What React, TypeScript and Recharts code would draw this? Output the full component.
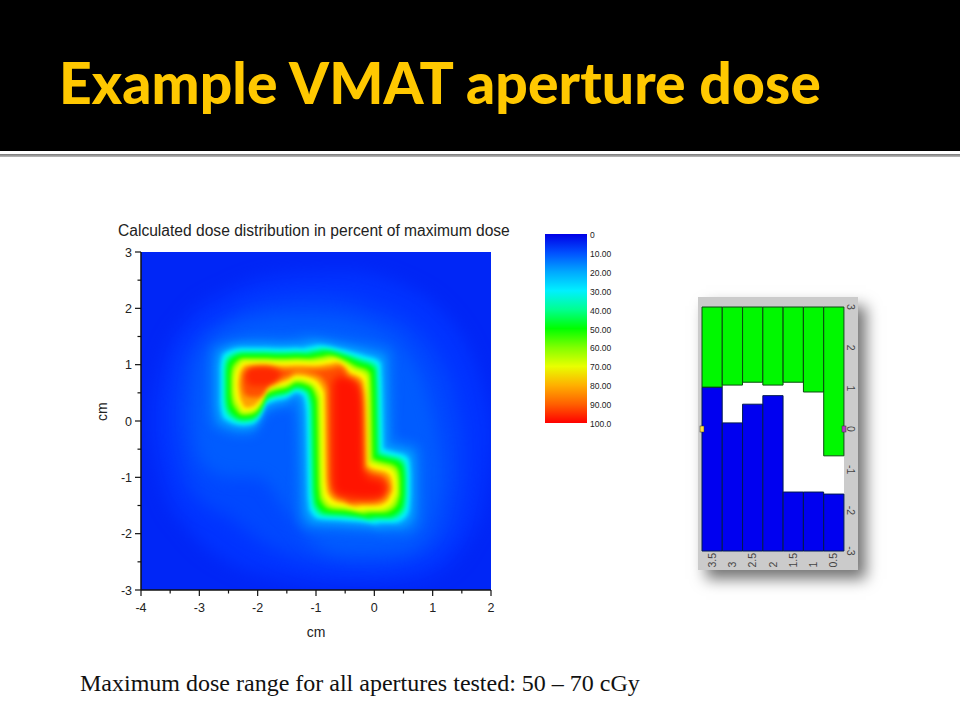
import {
  Area,
  Bar,
  BarChart,
  CartesianGrid,
  ComposedChart,
  XAxis,
  YAxis,
} from "recharts";

// dose contours: x in cm, then the lower and upper edge in cm
const x7 = [-3.8, -3.6, -3.2, -2.5, -1.5, -0.5, 0.5, 1.2, 1.6, 1.85, 2];
const hi7 = [0.3, 1.1, 1.8, 2.3, 2.6, 2.65, 2.4, 1.9, 1.3, 0.6, 0];
const lo7 = [-0.3, -1.2, -1.9, -2.5, -2.8, -2.9, -2.85, -2.6, -2.1, -1.5, -0.5];

const x10 = [-3.4, -3.3, -3, -2.5, -2, -1, 0, 0.6, 1.1, 1.35, 1.5];
const hi10 = [0.3, 1, 1.5, 1.85, 2.1, 2.2, 2.0, 1.7, 1.1, 0.5, -0.3];
const lo10 = [-0.2, -0.8, -1.4, -1.7, -2.1, -2.5, -2.6, -2.5, -2.2, -1.8, -1.0];

const x12 = [-3.1, -3.05, -2.9, -2.5, -2, -1.5, -1, -0.5, 0, 0.5, 0.9, 1.05, 1.15];
const hi12 = [0.3, 0.9, 1.3, 1.65, 1.8, 1.85, 1.85, 1.8, 1.65, 1.3, 0.5, -0.1, -0.7];
const lo12 = [-0.1, -0.5, -0.8, -1.0, -1.0, -1.6, -2.2, -2.35, -2.35, -2.3, -2.0, -1.6, -1.1];

const x15 = [-2.83, -2.81, -2.75, -2.25, -2.07, -1.96, -1.85, -1.7, -1.5, -1.42, -1.38, -1.36, -1.32, -1.3, -1.15, -0.5, 0.1, 0.2, 0.3, 0.32, 0.35, 0.53, 0.72, 0.79, 0.81];
const hi15 = [1.05, 1.2, 1.33, 1.47, 1.49, 1.49, 1.49, 1.48, 1.48, 1.49, 1.48, 1.5, 1.51, 1.51, 1.54, 1.45, 1.33, 1.3, 1.22, 0.9, -0.3, -0.36, -0.42, -0.52, -0.85];
const lo15 = [0.2, 0.05, -0.12, -0.27, -0.24, -0.12, 0.1, 0.17, 0.22, 0.25, 0.15, 0, -1.6, -1.75, -1.92, -1.96, -2, -2.02, -2, -2, -2, -2, -1.9, -1.75, -1.4];

const x20 = [-2.72, -2.7, -2.64, -2.25, -2.07, -1.96, -1.85, -1.7, -1.5, -1.33, -1.29, -1.25, -1.21, -1.19, -1.04, -0.5, -0.01, 0.09, 0.19, 0.21, 0.24, 0.42, 0.61, 0.68, 0.7];
const hi20 = [0.98, 1.12, 1.25, 1.38, 1.38, 1.38, 1.38, 1.37, 1.37, 1.38, 1.37, 1.39, 1.4, 1.4, 1.43, 1.34, 1.22, 1.19, 1.11, 0.79, -0.41, -0.47, -0.53, -0.63, -0.95];
const lo20 = [0.28, 0.13, -0.03, -0.16, -0.13, -0.01, 0.21, 0.28, 0.33, 0.42, 0.36, 0.11, -1.5, -1.66, -1.82, -1.85, -1.89, -1.91, -1.89, -1.89, -1.89, -1.89, -1.8, -1.66, -1.35];

const x30 = [-2.64, -2.62, -2.56, -2.25, -2.07, -1.96, -1.85, -1.7, -1.5, -1.33, -1.22, -1.17, -1.13, -1.11, -0.96, -0.5, -0.09, 0.01, 0.11, 0.13, 0.16, 0.34, 0.53, 0.6, 0.62];
const hi30 = [0.95, 1.1, 1.21, 1.3, 1.3, 1.3, 1.3, 1.29, 1.29, 1.3, 1.29, 1.31, 1.32, 1.32, 1.35, 1.26, 1.14, 1.11, 1.03, 0.71, -0.49, -0.55, -0.61, -0.71, -0.95];
const lo30 = [0.32, 0.16, 0.03, -0.08, -0.05, 0.07, 0.29, 0.36, 0.41, 0.5, 0.44, 0.19, -1.42, -1.58, -1.74, -1.77, -1.81, -1.83, -1.81, -1.81, -1.81, -1.81, -1.72, -1.58, -1.3];

const x40 = [-2.58, -2.56, -2.5, -2.25, -2.07, -1.96, -1.85, -1.7, -1.5, -1.33, -1.18, -1.11, -1.07, -1.05, -0.9, -0.5, -0.15, -0.05, 0.05, 0.07, 0.1, 0.28, 0.47, 0.54, 0.56];
const hi40 = [0.92, 1.06, 1.16, 1.24, 1.24, 1.24, 1.24, 1.23, 1.23, 1.24, 1.23, 1.25, 1.26, 1.26, 1.29, 1.2, 1.08, 1.05, 0.97, 0.65, -0.55, -0.61, -0.67, -0.77, -0.97];
const lo40 = [0.38, 0.22, 0.09, -0.02, 0.01, 0.13, 0.35, 0.42, 0.47, 0.56, 0.5, 0.25, -1.36, -1.52, -1.68, -1.71, -1.75, -1.77, -1.75, -1.75, -1.75, -1.75, -1.66, -1.52, -1.3];

const x50 = [-2.53, -2.51, -2.45, -2.25, -2.07, -1.96, -1.85, -1.7, -1.5, -1.33, -1.15, -1.06, -1.02, -1.0, -0.85, -0.5, -0.2, -0.1, 0, 0.02, 0.05, 0.23, 0.42, 0.49, 0.51];
const hi50 = [0.87, 1.01, 1.11, 1.19, 1.19, 1.19, 1.19, 1.18, 1.18, 1.19, 1.18, 1.2, 1.21, 1.21, 1.24, 1.15, 1.03, 1.0, 0.92, 0.6, -0.6, -0.66, -0.72, -0.82, -1.0];
const lo50 = [0.43, 0.27, 0.14, 0.03, 0.06, 0.18, 0.4, 0.47, 0.52, 0.61, 0.55, 0.3, -1.31, -1.47, -1.63, -1.66, -1.7, -1.72, -1.7, -1.7, -1.7, -1.7, -1.61, -1.47, -1.3];

const x60 = [-2.46, -2.44, -2.38, -2.25, -2.07, -1.96, -1.85, -1.7, -1.5, -1.33, -1.12, -0.99, -0.95, -0.93, -0.78, -0.5, -0.27, -0.17, -0.07, -0.05, -0.02, 0.16, 0.35, 0.42, 0.44];
const hi60 = [0.8, 0.94, 1.04, 1.12, 1.12, 1.12, 1.12, 1.11, 1.11, 1.12, 1.11, 1.13, 1.14, 1.14, 1.17, 1.08, 0.96, 0.93, 0.85, 0.53, -0.67, -0.73, -0.79, -0.89, -1.05];
const lo60 = [0.5, 0.34, 0.21, 0.1, 0.13, 0.25, 0.47, 0.54, 0.59, 0.68, 0.62, 0.37, -1.24, -1.4, -1.56, -1.59, -1.63, -1.65, -1.63, -1.63, -1.63, -1.63, -1.54, -1.4, -1.3];

const x70 = [-2.4, -2.38, -2.32, -2.25, -2.07, -1.96, -1.85, -1.7, -1.5, -1.33, -1.09, -0.93, -0.89, -0.87, -0.72, -0.5, -0.33, -0.23, -0.13, -0.11, -0.08, 0.1, 0.29, 0.36, 0.38];
const hi70 = [0.74, 0.88, 0.98, 1.06, 1.06, 1.06, 1.06, 1.05, 1.05, 1.06, 1.05, 1.07, 1.08, 1.08, 1.11, 1.02, 0.9, 0.87, 0.79, 0.47, -0.73, -0.79, -0.85, -0.95, -1.1];
const lo70 = [0.56, 0.4, 0.27, 0.16, 0.19, 0.31, 0.53, 0.6, 0.65, 0.74, 0.68, 0.43, -1.18, -1.34, -1.5, -1.53, -1.57, -1.59, -1.57, -1.57, -1.57, -1.57, -1.48, -1.34, -1.3];

const x80 = [-2.33, -2.31, -2.27, -2.2, -2.07, -1.96, -1.85, -1.7, -1.5, -1.33, -1.05, -0.86, -0.82, -0.8, -0.65, -0.5, -0.4, -0.3, -0.2, -0.18, -0.15, 0.03, 0.22, 0.29, 0.31];
const hi80 = [0.7, 0.84, 0.93, 0.99, 0.99, 0.99, 0.99, 0.98, 0.98, 0.99, 0.98, 1.0, 1.01, 1.01, 1.04, 0.95, 0.83, 0.8, 0.72, 0.4, -0.8, -0.86, -0.92, -1.02, -1.15];
const lo80 = [0.6, 0.45, 0.33, 0.23, 0.26, 0.38, 0.6, 0.67, 0.72, 0.81, 0.75, 0.5, -1.12, -1.28, -1.43, -1.46, -1.5, -1.52, -1.5, -1.5, -1.5, -1.5, -1.42, -1.28, -1.25];

const x90 = [-2.26, -2.24, -2.2, -2.1, -2.0, -1.9, -1.8, -1.7, -1.5, -1.33, -1.0, -0.79, -0.75, -0.73, -0.6, -0.5, -0.47, -0.37, -0.27, -0.25, -0.22, -0.04, 0.15, 0.22, 0.24];
const hi90 = [0.68, 0.81, 0.88, 0.92, 0.92, 0.92, 0.92, 0.91, 0.91, 0.92, 0.91, 0.93, 0.94, 0.94, 0.97, 0.88, 0.76, 0.73, 0.65, 0.33, -0.87, -0.93, -0.99, -1.09, -1.2];
const lo90 = [0.62, 0.5, 0.45, 0.42, 0.42, 0.47, 0.67, 0.74, 0.79, 0.88, 0.82, 0.57, -1.05, -1.22, -1.36, -1.39, -1.43, -1.45, -1.43, -1.43, -1.43, -1.43, -1.36, -1.24, -1.22];

const xArm = [-2.2, -2.1, -1.9, -1.7, -1.6];
const hiArm = [0.88, 0.95, 0.97, 0.93, 0.85];
const loArm = [0.72, 0.62, 0.62, 0.68, 0.8];

const xCore = [-0.72, -0.68, -0.6, -0.4, -0.25, -0.2, -0.17, -0.1, 0.1, 0.18, 0.2];
const hiCore = [0.65, 0.75, 0.8, 0.75, 0.6, 0.3, -0.85, -1.0, -1.05, -1.1, -1.2];
const loCore = [-1.1, -1.25, -1.32, -1.36, -1.38, -1.38, -1.38, -1.38, -1.36, -1.3, -1.25];

const toRows = (xs: number[], lo: number[], hi: number[]) =>
  xs.map((x, i) => ({ x, range: [lo[i], hi[i]] }));

const bands = [
  { name: "d7", color: "#0034ff", blur: 9, rows: toRows(x7, lo7, hi7) },
  { name: "d10", color: "#0048ff", blur: 9, rows: toRows(x10, lo10, hi10) },
  { name: "d12", color: "#005cff", blur: 8, rows: toRows(x12, lo12, hi12) },
  { name: "d15", color: "#0078ff", blur: 5, rows: toRows(x15, lo15, hi15) },
  { name: "d20", color: "#009eff", blur: 3, rows: toRows(x20, lo20, hi20) },
  { name: "d30", color: "#00f0ff", blur: 2, rows: toRows(x30, lo30, hi30) },
  { name: "d40", color: "#00ff90", blur: 2, rows: toRows(x40, lo40, hi40) },
  { name: "d50", color: "#00ff00", blur: 2, rows: toRows(x50, lo50, hi50) },
  { name: "d60", color: "#a0ff00", blur: 2, rows: toRows(x60, lo60, hi60) },
  { name: "d70", color: "#ffff00", blur: 2, rows: toRows(x70, lo70, hi70) },
  { name: "d80", color: "#ffa000", blur: 2, rows: toRows(x80, lo80, hi80) },
  { name: "d90", color: "#ff5000", blur: 2.5, rows: toRows(x90, lo90, hi90) },
  { name: "arm", color: "#ff2800", blur: 3, rows: toRows(xArm, loArm, hiArm) },
  { name: "core", color: "#ff1400", blur: 4, rows: toRows(xCore, loCore, hiCore) },
];

const doseXTicks = [-4, -3.5, -3, -2.5, -2, -1.5, -1, -0.5, 0, 0.5, 1, 1.5, 2];
const doseYTicks = [-3, -2.5, -2, -1.5, -1, -0.5, 0, 0.5, 1, 1.5, 2, 2.5, 3];

// colour scale
const scaleTicks = [0, 10, 20, 30, 40, 50, 60, 70, 80, 90, 100];
const scaleLabels = ["0", "10.00", "20.00", "30.00", "40.00", "50.00", "60.00", "70.00", "80.00", "90.00", "100.0"];
const scaleStops = ["#0000e6", "#0050ff", "#00a8ff", "#00f0ff", "#00ff90", "#00ff00", "#80ff00", "#e8ff00", "#ffb000", "#ff6000", "#ff0000"];

// leaf positions of the aperture
const leafNames = ["3.5", "3", "2.5", "2", "1.5", "1", "0.5"];
const bankBlue = [1.03, 0.15, 0.61, 0.82, -1.55, -1.55, -1.6];
const bankGreen = [1.03, 1.08, 1.15, 1.08, 1.15, 0.91, -0.66];
const leafRows = leafNames.map((name, i) => ({
  name,
  blue: [-3, bankBlue[i]],
  green: [bankGreen[i], 3],
}));
const leafTicks = [3, 2, 1, 0, -1, -2, -3];

const SANS = "'Liberation Sans', Arial, sans-serif";

const DoseXTick = ({ x, y, payload }: any) => {
  const major = Number.isInteger(payload.value);
  return (
    <g>
      <line x1={x} x2={x} y1={y} y2={y + (major ? 6 : 3.5)} stroke="#111" strokeWidth={1.2} />
      {major && (
        <text x={x} y={y + 22} textAnchor="middle" fontSize={12.5} fill="#222" fontFamily={SANS}>
          {payload.value}
        </text>
      )}
    </g>
  );
};

const DoseYTick = ({ x, y, payload }: any) => {
  const major = Number.isInteger(payload.value);
  return (
    <g>
      <line x1={x} x2={x - (major ? 6 : 3.5)} y1={y} y2={y} stroke="#111" strokeWidth={1.2} />
      {major && (
        <text x={x - 9} y={y + 4.5} textAnchor="end" fontSize={12.5} fill="#222" fontFamily={SANS}>
          {payload.value}
        </text>
      )}
    </g>
  );
};

const ScaleTick = ({ x, y, index }: any) => (
  <text x={x + 3} y={y + 4} fontSize={8.5} fill="#222" fontFamily={SANS}>
    {scaleLabels[index]}
  </text>
);

const LeafXTick = ({ x, y, payload }: any) => (
  <text
    transform={`translate(${x + 3.5},${y + 16.5}) rotate(-90)`}
    fontSize={10.5}
    fill="#444"
    fontFamily={SANS}
  >
    {payload.value}
  </text>
);

const LeafYTick = ({ x, y, payload }: any) => (
  <g>
    {payload.value === 0 && (
      <>
        <rect x={x - 2} y={y - 3} width={4} height={6} fill="#b040c0" stroke="#333" strokeWidth={0.5} />
        <rect x={x - 144} y={y - 3} width={4} height={6} fill="#ffe040" stroke="#333" strokeWidth={0.5} />
      </>
    )}
    <text
      transform={`translate(${x + 3},${y}) rotate(90)`}
      textAnchor="middle"
      fontSize={10.5}
      fill="#444"
      fontFamily={SANS}
    >
      {payload.value}
    </text>
  </g>
);

export default function App() {
  return (
    <div style={{ position: "absolute", left: 0, top: 0, width: 960, height: 720, background: "#fff", overflow: "hidden" }}>
      <style>{bands.map((b) => `.${b.name} .recharts-area-area{filter:blur(${b.blur}px)}`).join("")}</style>

      <div style={{ position: "absolute", left: 0, top: 0, width: 960, height: 151, background: "#000" }} />
      <div style={{ position: "absolute", left: 0, top: 154, width: 960, height: 3, background: "linear-gradient(#777,#bbb)" }} />
      <div
        style={{
          position: "absolute",
          left: 59,
          top: 44,
          whiteSpace: "nowrap",
          fontFamily: "Lato, sans-serif",
          fontWeight: 900,
          fontSize: 57,
          lineHeight: "76px",
          letterSpacing: 0.1,
          color: "#ffc800",
        }}
      >
        Example VMAT aperture dose
      </div>

      <div style={{ position: "absolute", left: 118, top: 222, whiteSpace: "nowrap", fontFamily: SANS, fontSize: 15.6, color: "#222" }}>
        Calculated dose distribution in percent of maximum dose
      </div>

      <div style={{ position: "absolute", left: 90, top: 220 }}>
        <ComposedChart width={420} height={430} margin={{ top: 32, right: 19, bottom: 0, left: 0 }}>
          <CartesianGrid horizontal={false} vertical={false} fill="#0026f6" />
          <XAxis
            type="number"
            dataKey="x"
            domain={[-4, 2]}
            ticks={doseXTicks}
            interval={0}
            allowDataOverflow
            height={60}
            tickSize={0}
            tickMargin={0}
            tick={<DoseXTick />}
            axisLine={{ stroke: "#111", strokeWidth: 1.5 }}
            label={{ value: "cm", position: "insideBottom", offset: 13, fontSize: 14, fill: "#222", fontFamily: SANS }}
          />
          <YAxis
            type="number"
            domain={[-3, 3]}
            ticks={doseYTicks}
            interval={0}
            allowDataOverflow
            width={51}
            tickSize={0}
            tickMargin={0}
            tick={<DoseYTick />}
            axisLine={{ stroke: "#111", strokeWidth: 1.5 }}
            label={{ value: "cm", angle: -90, position: "insideLeft", offset: 12, fontSize: 14, fill: "#222", fontFamily: SANS }}
          />
          {bands.map((b) => (
            <Area
              key={b.name}
              className={b.name}
              data={b.rows}
              dataKey="range"
              type="monotone"
              fill={b.color}
              fillOpacity={1}
              stroke="none"
              dot={false}
              activeDot={false}
              isAnimationActive={false}
            />
          ))}
        </ComposedChart>
      </div>

      <div style={{ position: "absolute", left: 535, top: 225 }}>
        <BarChart
          width={100}
          height={207}
          data={[{ name: "dose", value: 100 }]}
          margin={{ top: 9, right: 0, bottom: 9, left: 10 }}
          barCategoryGap={0}
        >
          <defs>
            <linearGradient id="doseScale" x1="0" y1="0" x2="0" y2="1">
              {scaleStops.map((c, i) => (
                <stop key={c} offset={`${scaleTicks[i]}%`} stopColor={c} />
              ))}
            </linearGradient>
          </defs>
          <XAxis dataKey="name" hide />
          <YAxis
            orientation="right"
            type="number"
            reversed
            domain={[0, 100]}
            ticks={scaleTicks}
            interval={0}
            width={48}
            tickSize={0}
            tickMargin={0}
            axisLine={false}
            tick={<ScaleTick />}
          />
          <Bar dataKey="value" fill="url(#doseScale)" isAnimationActive={false} />
        </BarChart>
      </div>

      <div
        style={{
          position: "absolute",
          left: 698,
          top: 297,
          width: 160,
          height: 273,
          background: "#cbcbcb",
          boxShadow: "8px 9px 14px rgba(0,0,0,0.55)",
        }}
      >
        <BarChart
          width={160}
          height={273}
          data={leafRows}
          margin={{ top: 10, right: 0, bottom: 0, left: 4 }}
          barCategoryGap={0}
          barSize={20.2}
          barGap={-20.2}
        >
          <CartesianGrid horizontal={false} vertical={false} fill="#fff" />
          <XAxis dataKey="name" height={19} interval={0} tickSize={0} tickMargin={0} axisLine={false} tick={<LeafXTick />} />
          <YAxis
            orientation="right"
            type="number"
            domain={[-3, 3]}
            ticks={leafTicks}
            interval={0}
            width={14}
            tickSize={0}
            tickMargin={0}
            axisLine={false}
            tick={<LeafYTick />}
          />
          <Bar dataKey="blue" fill="#0000f0" stroke="#001a50" strokeWidth={1} isAnimationActive={false} />
          <Bar dataKey="green" fill="#00f800" stroke="#0a4a10" strokeWidth={1} isAnimationActive={false} />
        </BarChart>
      </div>

      <div style={{ position: "absolute", left: 80, top: 670, whiteSpace: "nowrap", fontFamily: "'Liberation Serif', serif", fontSize: 24, color: "#111" }}>
        Maximum dose range for all apertures tested: 50 – 70 cGy
      </div>
    </div>
  );
}
